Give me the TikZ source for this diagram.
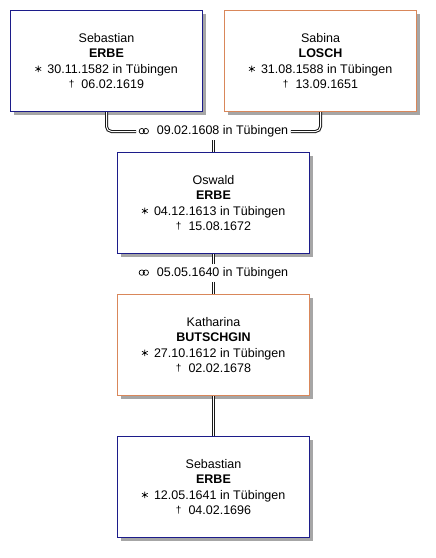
\documentclass[tikz,border=0pt]{standalone}
\usepackage{fontspec}
\setmainfont{Liberation Sans}
\usetikzlibrary{shadows}
\definecolor{navyc}{HTML}{1C1C8A}
\definecolor{orangec}{HTML}{D9875A}
\newcommand\bornsym{\tikz[baseline=-4.3pt]{\draw[line width=0.65pt] (90:3.3pt) -- (270:3.3pt) (30:3.3pt) -- (210:3.3pt) (150:3.3pt) -- (330:3.3pt);}\hspace{6pt}}
\newcommand\diedsym{\smash{\raisebox{1pt}{\fontsize{10}{10}\selectfont †}}\hspace{7pt}}
\newcommand\marrsym{\tikz[baseline=-3.6pt]{\draw[line width=0.7pt] (0pt,0pt) circle[radius=2.7pt] (4pt,0pt) circle[radius=2.7pt];}\hspace{8pt}}
\tikzset{
  person/.style={draw, line width=1pt, fill=white, minimum width=192pt,
    minimum height=101pt, align=center, inner sep=0pt,
    font=\fontsize{12.5}{15.5}\selectfont,
    drop shadow={shadow xshift=3pt, shadow yshift=-3pt, fill=black!35, opacity=1}},
  male/.style={person, draw=navyc},
  female/.style={person, draw=orangec},
  marr/.style={fill=white, inner sep=2.5pt, font=\fontsize{12.5}{15}\selectfont},
  link/.style={draw=black!90, double=white, line width=1pt, double distance=1pt, rounded corners=5pt}
}
\begin{document}
\begin{tikzpicture}[x=1pt,y=-1pt]
\useasboundingbox[fill=white] (0,0) rectangle (436,558);
\node[male] (s1) at (106.5,61) {Sebastian\\\textbf{ERBE}\\\bornsym 30.11.1582 in Tübingen\\\diedsym 06.02.1619};
\node[female] (s2) at (320.5,61) {Sabina\\\textbf{LOSCH}\\\bornsym 31.08.1588 in Tübingen\\\diedsym 13.09.1651};
\node[marr] (m1) at (213.5,131.5) {\marrsym 09.02.1608 in Tübingen};
\node[male] (o) at (213.5,203) {Oswald\\\textbf{ERBE}\\\bornsym 04.12.1613 in Tübingen\\\diedsym 15.08.1672};
\node[marr] (m2) at (213.5,273) {\marrsym 05.05.1640 in Tübingen};
\node[female] (k) at (213.5,345) {Katharina\\\textbf{BUTSCHGIN}\\\bornsym 27.10.1612 in Tübingen\\\diedsym 02.02.1678};
\node[male] (s3) at (213.5,487) {Sebastian\\\textbf{ERBE}\\\bornsym 12.05.1641 in Tübingen\\\diedsym 04.02.1696};
\draw[link] (s1.south) |- (m1.west);
\draw[link] (s2.south) |- (m1.east);
\draw[link] (m1.south) -- (o.north);
\draw[link] (o.south) -- (m2.north);
\draw[link] (m2.south) -- (k.north);
\draw[link] (k.south) -- (s3.north);
\end{tikzpicture}
\end{document}
